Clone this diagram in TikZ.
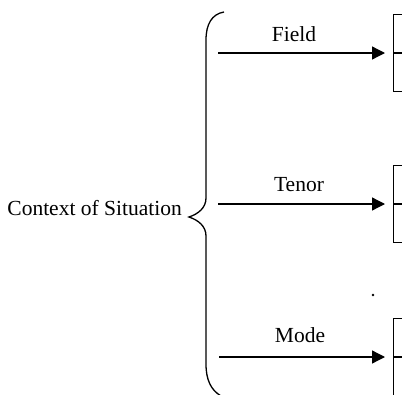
\documentclass[tikz,border=0pt]{standalone}
\usepackage{fontspec}
\setmainfont{Liberation Serif}
\usetikzlibrary{arrows.meta}
\begin{document}
\begin{tikzpicture}
        [x=1pt, y=-1pt,
        lbl/.style={font=\fontsize{21.5}{25}\selectfont, inner sep=0pt, anchor=base},
        box/.style={draw, line width=1.3pt, minimum width=40pt, minimum height=77pt, anchor=west, inner sep=0pt},
        line/.style={line width=1.3pt},
        arr/.style={line, shorten >=8pt, -{Triangle[length=13pt,width=13pt]}}]
        \useasboundingbox (0,0) rectangle (402,394);
        \clip (0,0) rectangle (402,394);
        \node[lbl, anchor=base east] (ctx) at (182,215) {Context of Situation};
        % the brace
        \draw[line] (224,12) .. controls (212,14) and (206,24) .. (206,40)
            -- (206,198) .. controls (206,208) and (198,214) .. (189,217)
            .. controls (198,220) and (206,226) .. (206,236)
            -- (206,364) .. controls (206,380) and (211,390) .. (221,396);
        \node[box] (field) at (393,53) {};
        \node[box] (tenor) at (393,204) {};
        \node[box] (mode) at (393,357) {};
        \draw[line] (field.west) -- (field.east);
        \draw[line] (tenor.west) -- (tenor.east);
        \draw[line] (mode.west) -- (mode.east);
        \coordinate (f0) at (218,53);
        \coordinate (t0) at (218,204);
        \coordinate (m0) at (219,357);
        \draw[arr] (f0) -- (field.west);
        \draw[arr] (t0) -- (tenor.west);
        \draw[arr] (m0) -- (mode.west);
        \node[lbl] (fieldlbl) at (294,41) {Field};
        \node[lbl] (tenorlbl) at (299,191) {Tenor};
        \node[lbl] (modelbl) at (300,342) {Mode};
        \fill (373,295) circle (1.4pt);
    \end{tikzpicture}
\end{document}
